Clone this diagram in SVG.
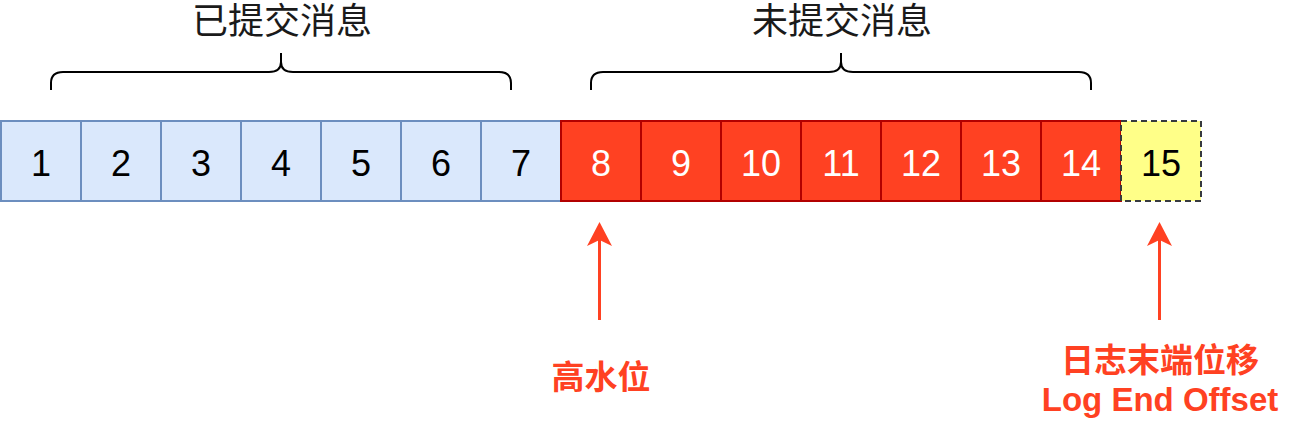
<svg xmlns="http://www.w3.org/2000/svg" width="1302" height="422" viewBox="0 0 1302 422">
<style>
.blue{fill:#dae8fc;stroke:#6c8ebf;stroke-width:2}
.red{fill:#ff4122;stroke:#b20000;stroke-width:2}
.yellow{fill:#ffff88;stroke:#36393d;stroke-width:2;stroke-dasharray:6 4}
.num{font-family:"Liberation Sans","Noto Sans CJK SC",sans-serif;font-size:36px;text-anchor:middle}
.dark{fill:#000}
.light{fill:#fff}
.title{font-family:"Liberation Sans","Noto Sans CJK SC",sans-serif;font-size:36px;text-anchor:middle;fill:#1a1a1a}
.lbl{font-family:"Liberation Sans","Noto Sans CJK SC",sans-serif;font-size:33px;font-weight:bold;text-anchor:middle;fill:#ff4122}
.brace{fill:none;stroke:#000;stroke-width:2}
.arrow{stroke:#ff4122;stroke-width:3;fill:none}
.head{fill:#ff4122}
</style>
<rect width="1302" height="422" fill="#fff"/>
<g id="cell1"><rect class="blue" x="1" y="121" width="80" height="80"/><text class="num dark" x="41" y="176">1</text></g>
<g id="cell2"><rect class="blue" x="81" y="121" width="80" height="80"/><text class="num dark" x="121" y="176">2</text></g>
<g id="cell3"><rect class="blue" x="161" y="121" width="80" height="80"/><text class="num dark" x="201" y="176">3</text></g>
<g id="cell4"><rect class="blue" x="241" y="121" width="80" height="80"/><text class="num dark" x="281" y="176">4</text></g>
<g id="cell5"><rect class="blue" x="321" y="121" width="80" height="80"/><text class="num dark" x="361" y="176">5</text></g>
<g id="cell6"><rect class="blue" x="401" y="121" width="80" height="80"/><text class="num dark" x="441" y="176">6</text></g>
<g id="cell7"><rect class="blue" x="481" y="121" width="80" height="80"/><text class="num dark" x="521" y="176">7</text></g>
<g id="cell8"><rect class="red" x="561" y="121" width="80" height="80"/><text class="num light" x="601" y="176">8</text></g>
<g id="cell9"><rect class="red" x="641" y="121" width="80" height="80"/><text class="num light" x="681" y="176">9</text></g>
<g id="cell10"><rect class="red" x="721" y="121" width="80" height="80"/><text class="num light" x="761" y="176">10</text></g>
<g id="cell11"><rect class="red" x="801" y="121" width="80" height="80"/><text class="num light" x="841" y="176">11</text></g>
<g id="cell12"><rect class="red" x="881" y="121" width="80" height="80"/><text class="num light" x="921" y="176">12</text></g>
<g id="cell13"><rect class="red" x="961" y="121" width="80" height="80"/><text class="num light" x="1001" y="176">13</text></g>
<g id="cell14"><rect class="red" x="1041" y="121" width="80" height="80"/><text class="num light" x="1081" y="176">14</text></g>
<g id="cell15"><rect class="yellow" x="1121" y="121" width="80" height="80"/><text class="num dark" x="1161" y="176">15</text></g>
<g id="committed">
<path class="brace" d="M51,90 V83 Q51,72 63,72 H269 Q281,72 281,62 V53 M281,62 Q281,72 293,72 H499 Q511,72 511,83 V90"/>
<text class="title" x="282" y="34">已提交消息</text>
</g>
<g id="uncommitted">
<path class="brace" d="M591,90 V83 Q591,72 603,72 H829 Q841,72 841,62 V53 M841,62 Q841,72 853,72 H1079 Q1091,72 1091,83 V90"/>
<text class="title" x="842" y="34">未提交消息</text>
</g>
<g id="hw-label"><text class="lbl" x="601" y="389">高水位</text></g>
<g id="leo-label"><text class="lbl" x="1160" y="372">日志末端位移</text><text class="lbl" x="1160" y="411">Log End Offset</text></g>
<g id="connectors">
<line class="arrow" x1="599.5" y1="320" x2="599.5" y2="238"/>
<polygon class="head" points="599.5,222 612,246 599.5,240 587,246"/>
<line class="arrow" x1="1159.5" y1="320" x2="1159.5" y2="238"/>
<polygon class="head" points="1159.5,222 1172,246 1159.5,240 1147,246"/>
</g>
</svg>
